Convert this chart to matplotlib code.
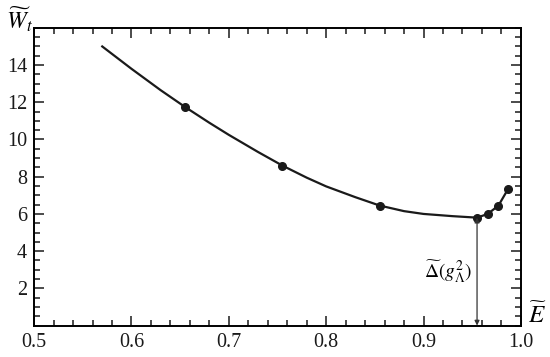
import numpy as np
from matplotlib import pyplot as plt
from matplotlib.ticker import MultipleLocator, FormatStrFormatter

plt.rcParams["font.family"] = ["Liberation Serif", "DejaVu Serif"]
plt.rcParams["mathtext.fontset"] = "stix"

# curve
curve_E = [0.57, 0.60, 0.63, 0.655, 0.68, 0.70, 0.73, 0.755, 0.78, 0.80, 0.83, 0.855,
           0.88, 0.90, 0.93, 0.955, 0.966, 0.977, 0.987]
curve_W = [15.0, 13.8, 12.65, 11.75, 10.9, 10.25, 9.33, 8.6, 7.95, 7.48, 6.9, 6.45,
           6.15, 6.0, 5.88, 5.8, 6.0, 6.45, 7.35]

# marked points
mark_E = [0.655, 0.755, 0.855, 0.955, 0.966, 0.977, 0.987]
mark_W = [11.75, 8.6, 6.45, 5.8, 6.0, 6.45, 7.35]

gap_E = 0.955
gap_W = 5.8

fig = plt.figure(figsize=(5.5, 3.57), dpi=100)
ax = fig.add_axes([0.062, 0.088, 0.885, 0.834])

ax.plot(curve_E, curve_W, "-", color="#1a1a1a", lw=1.6)
ax.plot(mark_E, mark_W, "o", color="#1a1a1a", ms=5.5)

ax.annotate("", xy=(gap_E, 0.0), xytext=(gap_E, gap_W),
            arrowprops=dict(arrowstyle="<|-|>", color="#333333", lw=0.9,
                            mutation_scale=7, shrinkA=0, shrinkB=0))
ax.text(0.925, 2.9, r"$\widetilde{\Delta}(g_{\Lambda}^{2})$", fontsize=14,
        ha="center", va="center")

ax.set_xlim(0.5, 1.0)
ax.set_ylim(0, 16)
ax.xaxis.set_major_locator(MultipleLocator(0.1))
ax.xaxis.set_minor_locator(MultipleLocator(0.02))
ax.xaxis.set_major_formatter(FormatStrFormatter("%.1f"))
ax.set_yticks([2, 4, 6, 8, 10, 12, 14])
ax.yaxis.set_minor_locator(MultipleLocator(0.5))

ax.tick_params(which="both", direction="in", top=True, right=True,
               labelsize=14.5, width=1.1, colors="#1a1a1a")
ax.tick_params(which="major", length=7, pad=5)
ax.tick_params(which="minor", length=4)
for s in ax.spines.values():
    s.set_linewidth(1.4)

fig.text(0.035, 0.945, r"$\widetilde{W}_t$", fontsize=17, ha="center", va="center")
fig.text(0.977, 0.115, r"$\widetilde{E}$", fontsize=18, ha="center", va="center")

plt.savefig("out.png", dpi=100)
